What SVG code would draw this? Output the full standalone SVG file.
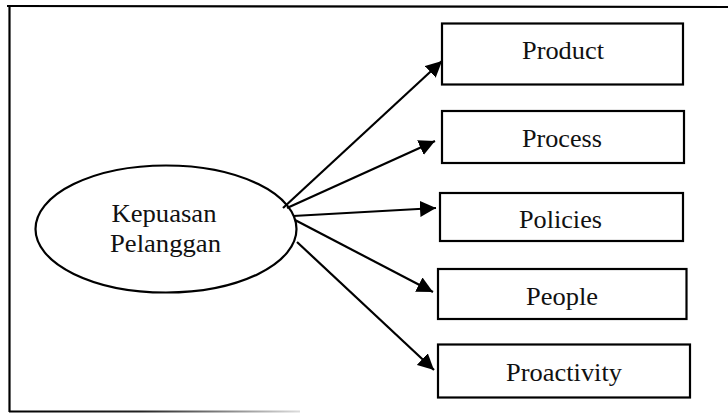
<svg xmlns="http://www.w3.org/2000/svg" width="728" height="414" viewBox="0 0 728 414">
<style>
.box{fill:#fff;stroke:#000;stroke-width:2.2}
.lbl{font-size:26px;fill:#111;text-anchor:middle}
.conn{stroke:#000;stroke-width:2.2;fill:none;marker-end:url(#ah)}
.frame{stroke:#000;stroke-width:2.2;fill:none}
</style>
<defs>
<marker id="ah" markerUnits="userSpaceOnUse" markerWidth="16" markerHeight="16" refX="15" refY="7.5" orient="auto" viewBox="0 0 15 15">
<path d="M0,0 L15,7.5 L0,15 z" fill="#000"/>
</marker>
<linearGradient id="fade" gradientUnits="userSpaceOnUse" x1="9" y1="0" x2="300" y2="0">
<stop offset="0" stop-color="#000"/>
<stop offset="0.45" stop-color="#222"/>
<stop offset="1" stop-color="#ddd"/>
</linearGradient>
</defs>
<rect width="728" height="414" fill="#fff"/>
<g id="frame">
<line class="frame" x1="7" y1="6" x2="728" y2="7"/>
<line class="frame" x1="9.5" y1="5" x2="9.5" y2="412"/>
<line x1="9" y1="411.5" x2="300" y2="411.5" stroke="url(#fade)" stroke-width="2.2"/>
</g>
<g id="connectors">
<line class="conn" x1="283" y1="208" x2="442" y2="61"/>
<line class="conn" x1="287" y1="208" x2="435" y2="141"/>
<line class="conn" x1="293" y1="216" x2="436" y2="208"/>
<line class="conn" x1="295" y1="220" x2="433" y2="292"/>
<line class="conn" x1="297" y1="242" x2="434" y2="370"/>
</g>
<g font-family="'Liberation Serif', 'Times New Roman', 'Noto Serif', 'DejaVu Serif', Times, serif">
<g id="kepuasan">
<ellipse cx="166" cy="229" rx="130.5" ry="63.5" fill="none" stroke="#000" stroke-width="2.2"/>
<text class="lbl" x="164" y="221.5" textLength="105" lengthAdjust="spacingAndGlyphs">Kepuasan</text>
<text class="lbl" x="165.5" y="251.5" textLength="111" lengthAdjust="spacingAndGlyphs">Pelanggan</text>
</g>
<g id="product">
<rect class="box" x="442" y="23.5" width="241" height="61"/>
<text class="lbl" x="563" y="59" textLength="82" lengthAdjust="spacingAndGlyphs">Product</text>
</g>
<g id="process">
<rect class="box" x="442" y="111" width="242" height="52"/>
<text class="lbl" x="562" y="146.5" textLength="80" lengthAdjust="spacingAndGlyphs">Process</text>
</g>
<g id="policies">
<rect class="box" x="440" y="193" width="243" height="48"/>
<text class="lbl" x="560.5" y="228" textLength="83" lengthAdjust="spacingAndGlyphs">Policies</text>
</g>
<g id="people">
<rect class="box" x="438" y="269" width="248.5" height="50"/>
<text class="lbl" x="562" y="305" textLength="72" lengthAdjust="spacingAndGlyphs">People</text>
</g>
<g id="proactivity">
<rect class="box" x="438" y="344.5" width="252" height="53"/>
<text class="lbl" x="564" y="380.5" textLength="116" lengthAdjust="spacingAndGlyphs">Proactivity</text>
</g>
</g>
</svg>
